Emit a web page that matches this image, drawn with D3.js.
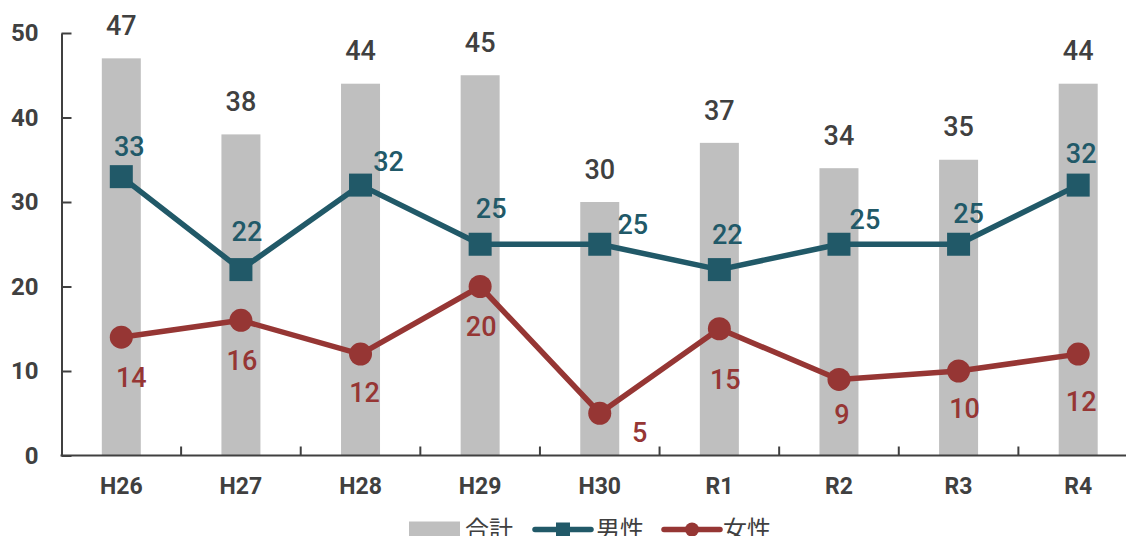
<!DOCTYPE html>
<html>
<head>
<meta charset="utf-8">
<script src="https://cdn.jsdelivr.net/npm/d3@7"></script>
<style>
  html, body { margin: 0; padding: 0; background: #fff; }
  svg { display: block; }
</style>
</head>
<body>
<svg id="chart" width="1126" height="536"></svg>
<script>
// Fiscal years and counts
const years = ["H26", "H27", "H28", "H29", "H30", "R1", "R2", "R3", "R4"];
const totalCounts = [47, 38, 44, 45, 30, 37, 34, 35, 44];
const maleCounts = [33, 22, 32, 25, 25, 22, 25, 25, 32];
const femaleCounts = [14, 16, 12, 20, 5, 15, 9, 10, 12];
const yTicks = [0, 10, 20, 30, 40, 50];
const seriesNames = ["合計", "男性", "女性"];

// Hand-placed value label offsets (pixels from each marker)
const maleLabelDx = [8, 6, 28, 11, 33, 8, 26, 10, 3];
const maleLabelDy = [-30, -38, -24, -36, -20, -35, -25, -31, -32];
const femaleLabelDx = [10, 1, 4, 1, 40, 6, 3, 6, 3];
const femaleLabelDy = [40, 40, 38, 40, 19, 51, 35, 37, 47];

const colors = { total: "#bfbfbf", male: "#215968", female: "#963634", text: "#404040" };
const numFont = "Roboto, 'Noto Sans', sans-serif";
const cjkFont = "'Noto Sans CJK JP', 'Noto Sans', sans-serif";

const svg = d3.select("#chart");
const plotLeft = 61.5, plotRight = 1138, plotTop = 33, plotBottom = 455.5;

const x = d3.scaleBand().domain(years).range([plotLeft, plotRight]).paddingInner(0).paddingOuter(0);
const y = d3.scaleLinear().domain([0, 50]).range([plotBottom, plotTop]);
const step = x.step();
const barW = step * 0.326;
const cx = d => x(d) + step / 2;

// Bars
svg.append("g").selectAll("rect").data(years).join("rect")
  .attr("x", (d) => cx(d) - barW / 2)
  .attr("y", (d, i) => y(totalCounts[i]))
  .attr("width", barW)
  .attr("height", (d, i) => y(0) - y(totalCounts[i]))
  .attr("fill", colors.total);

// Y axis with inward ticks
const yAxis = d3.axisLeft(y).tickValues(yTicks).tickSizeInner(-10).tickSizeOuter(0).tickPadding(23);
const gy = svg.append("g").attr("transform", `translate(${plotLeft},0)`).call(yAxis);
gy.select(".domain").attr("stroke", colors.text).attr("stroke-width", 2);
gy.selectAll(".tick line").attr("stroke", colors.text).attr("stroke-width", 2);
gy.selectAll(".tick text").attr("fill", colors.text)
  .style("font-family", numFont).style("font-size", "24px").style("font-weight", "bold");

// X axis: labels centred, ticks at category boundaries
const xAxis = d3.axisBottom(x).tickSize(0).tickPadding(22);
const gx = svg.append("g").attr("transform", `translate(0,${plotBottom})`).call(xAxis);
gx.select(".domain").remove();
gx.selectAll(".tick text").attr("fill", colors.text)
  .style("font-family", numFont).style("font-size", "23px").style("font-weight", "bold");
svg.append("line").attr("x1", plotLeft - 1).attr("x2", 1126).attr("y1", plotBottom).attr("y2", plotBottom)
  .attr("stroke", colors.text).attr("stroke-width", 2);
svg.append("g").selectAll("line").data(years.slice(1)).join("line")
  .attr("x1", d => x(d)).attr("x2", d => x(d))
  .attr("y1", plotBottom).attr("y2", plotBottom - 9)
  .attr("stroke", colors.text).attr("stroke-width", 2);

// Lines
const line = d3.line().x((d, i) => cx(years[i])).y(d => y(d));
svg.append("path").datum(maleCounts).attr("d", line)
  .attr("fill", "none").attr("stroke", colors.male).attr("stroke-width", 5.5).attr("stroke-linejoin", "round");
svg.append("path").datum(femaleCounts).attr("d", line)
  .attr("fill", "none").attr("stroke", colors.female).attr("stroke-width", 5.5).attr("stroke-linejoin", "round");

// Markers
const sq = 23;
svg.append("g").selectAll("rect").data(maleCounts).join("rect")
  .attr("x", (d, i) => cx(years[i]) - sq / 2).attr("y", d => y(d) - sq / 2)
  .attr("width", sq).attr("height", sq).attr("fill", colors.male);
svg.append("g").selectAll("circle").data(femaleCounts).join("circle")
  .attr("cx", (d, i) => cx(years[i])).attr("cy", d => y(d)).attr("r", 11.5)
  .attr("fill", colors.female);

// Value labels
function labels(values, color, dxs, dys) {
  svg.append("g").selectAll("text").data(values).join("text")
    .attr("x", (d, i) => cx(years[i]) + dxs[i])
    .attr("y", (d, i) => y(d) + dys[i])
    .attr("dy", "0.36em")
    .attr("text-anchor", "middle")
    .attr("fill", color)
    .style("font-family", numFont).style("font-size", "27px").style("font-weight", 500)
    .text(d => d);
}
labels(totalCounts, colors.text, totalCounts.map(() => 0), totalCounts.map(() => -33));
labels(maleCounts, colors.male, maleLabelDx, maleLabelDy);
labels(femaleCounts, colors.female, femaleLabelDx, femaleLabelDy);

// Legend
const ly = 529.5;
const lg = svg.append("g").style("font-family", cjkFont).style("font-size", "24px");
lg.append("rect").attr("x", 409).attr("y", ly - 8).attr("width", 51).attr("height", 16).attr("fill", colors.total);
lg.append("text").attr("x", 465).attr("y", ly).attr("dy", "0.36em").attr("fill", colors.text).text(seriesNames[0]);

lg.append("line").attr("x1", 535).attr("x2", 591).attr("y1", ly).attr("y2", ly)
  .attr("stroke", colors.male).attr("stroke-width", 5.5).attr("stroke-linecap", "round");
lg.append("rect").attr("x", 563 - 7).attr("y", ly - 7).attr("width", 14).attr("height", 14).attr("fill", colors.male);
lg.append("text").attr("x", 596).attr("y", ly).attr("dy", "0.36em").attr("fill", colors.text).text(seriesNames[1]);

lg.append("line").attr("x1", 664).attr("x2", 720).attr("y1", ly).attr("y2", ly)
  .attr("stroke", colors.female).attr("stroke-width", 5.5).attr("stroke-linecap", "round");
lg.append("circle").attr("cx", 692).attr("cy", ly).attr("r", 7).attr("fill", colors.female);
lg.append("text").attr("x", 723).attr("y", ly).attr("dy", "0.36em").attr("fill", colors.text).text(seriesNames[2]);
</script>
</body>
</html>
